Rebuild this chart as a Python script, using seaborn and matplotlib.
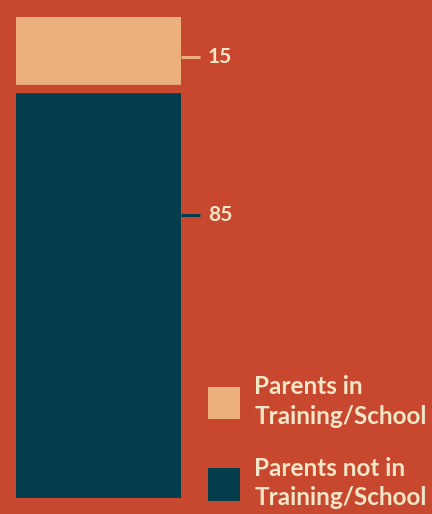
import matplotlib
matplotlib.use("Agg")
import matplotlib.pyplot as plt
import seaborn as sns
import pandas as pd
from matplotlib.patches import Patch

# data
categories = ["Parents in\nTraining/School", "Parents not in\nTraining/School"]
values = [15, 85]
colors = ["#ecb07f", "#033d4c"]

bg = "#c7482f"
cream = "#f1e6c8"

sns.set_theme(style="white")
plt.rcParams["font.family"] = ["Lato", "DejaVu Sans"]

W, H = 432, 514
fig = plt.figure(figsize=(W / 100, H / 100), dpi=100)
fig.patch.set_facecolor(bg)

# axes covers the bar: x 16..181 px, y 17..498 px
ax = fig.add_axes([16 / W, (H - 498) / H, 165 / W, 481 / H])
ax.set_facecolor("none")

df = pd.DataFrame({"x": [0], "total": [sum(values)], "bottom": [values[1]]})
sns.barplot(data=df, x="x", y="total", color=colors[0], width=1, saturation=1,
            edgecolor="none", linewidth=0, ax=ax)
sns.barplot(data=df, x="x", y="bottom", color=colors[1], width=1, saturation=1,
            edgecolor="none", linewidth=0, ax=ax)

# gap between the two segments
ax.axhline(values[1], color=bg, lw=6)

ax.set_xlim(-0.5, 0.5)
ax.set_ylim(0, sum(values))
ax.axis("off")

# value labels with short leader lines
dx = 19 / 165
label_y = [values[1] + values[0] / 2 - 0.8, 58.8]
for v, y, c in zip(values, label_y, colors):
    ax.plot([0.5, 0.5 + dx], [y, y], color=c, lw=2.2, clip_on=False, solid_capstyle="butt")
    ax.text(0.5 + dx + 8 / 165, y, str(v), color=cream, fontsize=15, fontweight="bold",
            va="center", ha="left")

handles = [Patch(facecolor=c, edgecolor="none") for c in colors]
leg = fig.legend(handles, categories, loc="lower left",
                 bbox_to_anchor=(208 / W, 5 / H), frameon=False,
                 prop={"size": 17.5, "weight": "bold"},
                 handlelength=1.31, handleheight=1.68, handletextpad=0.6,
                 labelspacing=1.2, borderpad=0, borderaxespad=0)
for t in leg.get_texts():
    t.set_color(cream)
    t.set_linespacing(1.33)

fig.savefig("out.png", dpi=100, facecolor=bg)
